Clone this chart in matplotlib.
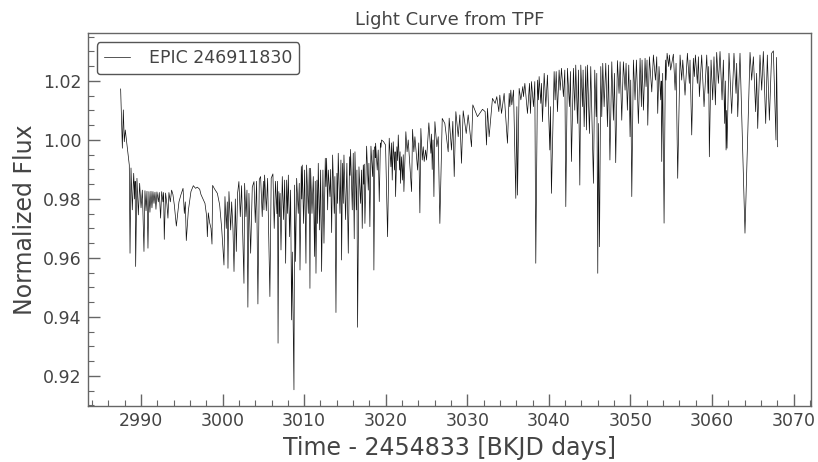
import matplotlib
matplotlib.use("Agg")
import matplotlib.pyplot as plt
import numpy as np

# Light curve vertices (time, normalized flux), in four stretches.
seg_a = [
    (2987.50, 1.0173), (2987.71, 0.9972), (2987.83, 1.0102), (2987.95, 0.9994), (2988.07, 1.0034),
    (2988.40, 0.9955), (2988.56, 0.9915), (2988.65, 0.9616), (2988.77, 0.9905), (2988.93, 0.9763),
    (2989.10, 0.9887), (2989.22, 0.9800), (2989.28, 0.9860), (2989.34, 0.9571), (2989.50, 0.9870),
    (2989.67, 0.9746), (2989.83, 0.9853), (2990.00, 0.9770), (2990.16, 0.9830), (2990.36, 0.9622),
    (2990.48, 0.9828), (2990.61, 0.9760), (2990.73, 0.9826), (2990.85, 0.9633), (2990.97, 0.9825),
    (2991.09, 0.9755), (2991.22, 0.9826), (2991.34, 0.9770), (2991.46, 0.9825), (2991.59, 0.9785),
    (2991.71, 0.9823), (2991.83, 0.9765), (2991.95, 0.9824), (2992.12, 0.9790), (2992.24, 0.9822),
    (2992.40, 0.9735), (2992.53, 0.9825), (2992.69, 0.9790), (2992.77, 0.9822), (2992.85, 0.9663),
    (2993.01, 0.9820), (2993.18, 0.9780), (2993.30, 0.9735), (2993.42, 0.9822), (2993.59, 0.9790),
    (2993.75, 0.9830), (2993.91, 0.9815), (2994.08, 0.9780), (2994.33, 0.9708), (2994.65, 0.9790),
    (2994.90, 0.9815), (2995.15, 0.9836), (2995.31, 0.9751), (2995.43, 0.9790), (2995.55, 0.9659),
    (2995.80, 0.9760), (2996.12, 0.9825), (2996.41, 0.9845), (2996.69, 0.9836), (2996.90, 0.9840),
    (2997.19, 0.9833), (2997.35, 0.9815), (2997.59, 0.9800), (2997.84, 0.9785), (2998.05, 0.9740),
    (2998.13, 0.9672), (2998.25, 0.9753), (2998.41, 0.9720), (2998.58, 0.9700), (2998.70, 0.9647),
    (2998.78, 0.9846), (2998.99, 0.9835), (2999.36, 0.9819), (2999.64, 0.9780), (2999.89, 0.9700),
    (3000.17, 0.9576),
]
seg_b = [
    (3000.29, 0.9808), (3000.45, 0.9700), (3000.58, 0.9790), (3000.66, 0.9565), (3000.78, 0.9825),
    (3000.99, 0.9695), (3001.11, 0.9790), (3001.27, 0.9700), (3001.40, 0.9554), (3001.56, 0.9800),
    (3001.68, 0.9622), (3001.84, 0.9820), (3002.00, 0.9859), (3002.17, 0.9740), (3002.33, 0.9845),
    (3002.45, 0.9700), (3002.62, 0.9514), (3002.70, 0.9853), (3002.86, 0.9740), (3002.99, 0.9830),
    (3003.10, 0.9433), (3003.23, 0.9819), (3003.44, 0.9616), (3003.64, 0.9840), (3003.85, 0.9859),
    (3004.01, 0.9720), (3004.17, 0.9860), (3004.33, 0.9444), (3004.50, 0.9866), (3004.66, 0.9876),
    (3004.86, 0.9740), (3005.00, 0.9860), (3005.07, 0.9763), (3005.15, 0.9881), (3005.36, 0.9760),
    (3005.52, 0.9870), (3005.80, 0.9469), (3005.96, 0.9870), (3006.17, 0.9885), (3006.33, 0.9700),
    (3006.49, 0.9860), (3006.66, 0.9750), (3006.74, 0.9860), (3006.80, 0.9311), (3006.90, 0.9825),
    (3006.97, 0.9740), (3007.05, 0.9819), (3007.16, 0.9627), (3007.32, 0.9876), (3007.48, 0.9730),
    (3007.61, 0.9864), (3007.73, 0.9582), (3007.85, 0.9864), (3007.97, 0.9751), (3008.06, 0.9881),
    (3008.22, 0.9672), (3008.34, 0.9830), (3008.46, 0.9390), (3008.55, 0.9620), (3008.75, 0.9153),
    (3008.83, 0.9847), (3008.95, 0.9588), (3009.08, 0.9870), (3009.28, 0.9751), (3009.40, 0.9853),
    (3009.49, 0.9559), (3009.65, 0.9910), (3009.71, 0.9800), (3009.77, 0.9915), (3009.93, 0.9717),
    (3010.06, 0.9898), (3010.22, 0.9582), (3010.30, 0.9915), (3010.51, 0.9751), (3010.63, 0.9904),
    (3010.71, 0.9497), (3010.79, 0.9904), (3010.96, 0.9751), (3011.12, 0.9876), (3011.28, 0.9605),
    (3011.36, 0.9860), (3011.45, 0.9548), (3011.57, 0.9864), (3011.65, 0.9717), (3011.73, 0.9921),
    (3011.90, 0.9695), (3012.02, 0.9898), (3012.14, 0.9554), (3012.30, 0.9898), (3012.43, 0.9650),
    (3012.59, 0.9938), (3012.67, 0.9842), (3012.75, 0.9938), (3012.88, 0.9763), (3012.96, 0.9898),
    (3013.16, 0.9808), (3013.25, 0.9900), (3013.37, 0.9686), (3013.49, 0.9949), (3013.69, 0.9751),
    (3013.77, 0.9876), (3013.90, 0.9415), (3014.02, 0.9887), (3014.10, 0.9785), (3014.18, 0.9955),
    (3014.39, 0.9751), (3014.51, 0.9932), (3014.59, 0.9593), (3014.71, 0.9921), (3014.80, 0.9785),
    (3014.88, 0.9949), (3015.08, 0.9730), (3015.24, 0.9921), (3015.41, 0.9616), (3015.57, 0.9943),
    (3015.63, 0.9880), (3015.69, 0.9968), (3015.90, 0.9763), (3016.02, 0.9955), (3016.14, 0.9665),
    (3016.23, 0.9960), (3016.39, 0.9763), (3016.47, 0.9898), (3016.55, 0.9365), (3016.72, 0.9909),
    (3016.92, 0.9785), (3017.04, 0.9898), (3017.12, 0.9700), (3017.25, 0.9915), (3017.31, 0.9850),
    (3017.37, 0.9918), (3017.45, 0.9717), (3017.66, 0.9979), (3017.86, 0.9830), (3017.94, 0.9921),
    (3018.06, 0.9706), (3018.19, 0.9979), (3018.39, 0.9876), (3018.47, 0.9966), (3018.55, 0.9559),
    (3018.68, 0.9977), (3018.72, 0.9940), (3018.76, 0.9989), (3018.96, 0.9898), (3019.08, 0.9966),
    (3019.21, 0.9791), (3019.35, 0.9990), (3019.42, 0.9975), (3019.49, 1.0000), (3019.74, 0.9994),
    (3019.98, 0.9983), (3020.23, 0.9672), (3020.43, 1.0006), (3020.64, 0.9909), (3020.72, 0.9990),
    (3020.80, 0.9864), (3020.92, 0.9994), (3021.09, 0.9898), (3021.15, 0.9960), (3021.21, 0.9808),
    (3021.37, 0.9977), (3021.46, 0.9930), (3021.54, 1.0017), (3021.70, 0.9898), (3021.76, 0.9960),
    (3021.82, 0.9853), (3021.94, 0.9943), (3022.07, 0.9864), (3022.15, 0.9950), (3022.23, 0.9825),
    (3022.47, 1.0028), (3022.62, 0.9960), (3022.76, 1.0000), (3023.17, 0.9825), (3023.29, 1.0036),
    (3023.45, 0.9960), (3023.58, 1.0011), (3023.91, 0.9898), (3024.05, 0.9990), (3024.19, 0.9753),
    (3024.31, 1.0039), (3024.48, 0.9932), (3024.60, 0.9977), (3024.72, 0.9927), (3024.89, 0.9966),
    (3025.01, 0.9932), (3025.29, 1.0058), (3025.54, 0.9955), (3025.62, 1.0020), (3025.70, 0.9900),
    (3025.80, 1.0000), (3025.91, 0.9808), (3026.03, 1.0062), (3026.27, 0.9977), (3026.44, 1.0011),
    (3026.64, 0.9717), (3026.93, 1.0073), (3027.25, 1.0056), (3027.66, 0.9960),
]
seg_c = [
    (3027.78, 1.0074), (3028.07, 0.9966), (3028.23, 1.0063), (3028.40, 0.9876), (3028.60, 1.0096),
    (3028.89, 1.0011), (3029.09, 1.0085), (3029.29, 0.9921), (3029.50, 1.0099), (3029.87, 1.0022),
    (3030.11, 1.0085), (3030.52, 0.9977), (3030.68, 1.0119), (3031.25, 1.0079), (3031.87, 1.0104),
    (3032.19, 1.0096), (3032.36, 0.9983), (3032.48, 1.0107), (3032.68, 1.0011), (3033.09, 1.0141),
    (3033.42, 1.0124), (3033.62, 1.0147), (3033.87, 1.0096), (3033.99, 1.0152), (3034.20, 1.0090),
    (3034.52, 1.0158), (3034.93, 0.9989), (3035.14, 1.0158), (3035.22, 1.0113), (3035.34, 1.0169),
    (3035.46, 1.0119), (3035.67, 1.0169), (3035.95, 0.9802), (3036.08, 1.0113), (3036.16, 0.9813),
    (3036.36, 1.0175), (3036.57, 1.0136), (3036.81, 1.0181), (3036.89, 1.0147), (3037.06, 1.0192),
    (3037.38, 1.0090), (3037.63, 1.0192), (3037.75, 1.0090), (3037.87, 1.0198), (3038.12, 1.0113),
    (3038.28, 1.0198), (3038.40, 0.9582), (3038.61, 1.0203), (3038.73, 1.0136), (3038.81, 1.0215),
    (3039.02, 1.0124), (3039.10, 1.0192), (3039.22, 1.0062), (3039.43, 1.0226), (3039.63, 1.0113),
    (3039.83, 1.0220), (3040.12, 0.9966), (3040.20, 1.0113), (3040.32, 0.9819), (3040.65, 1.0232),
    (3040.77, 1.0136), (3040.90, 1.0232), (3041.06, 1.0096), (3041.26, 1.0237), (3041.39, 1.0169),
    (3041.55, 1.0243), (3041.79, 1.0147), (3041.96, 1.0237), (3042.08, 0.9774), (3042.28, 1.0243),
    (3042.53, 1.0113), (3042.65, 1.0232), (3042.77, 0.9927), (3043.02, 1.0243), (3043.18, 1.0101),
    (3043.30, 1.0254), (3043.51, 1.0056), (3043.63, 1.0237), (3043.80, 0.9847), (3043.92, 1.0254),
    (3044.12, 1.0113), (3044.20, 1.0237), (3044.33, 1.0045), (3044.53, 1.0249), (3044.61, 1.0034),
    (3044.74, 1.0254), (3044.98, 1.0022), (3045.14, 1.0249), (3045.47, 0.9853), (3045.63, 1.0237),
    (3045.80, 1.0079), (3045.88, 1.0226), (3046.00, 0.9548), (3046.08, 1.0056), (3046.21, 0.9638),
    (3046.37, 1.0249), (3046.49, 1.0079), (3046.61, 1.0260), (3046.78, 1.0113), (3046.98, 1.0260),
    (3047.19, 1.0045), (3047.31, 1.0254), (3047.49, 0.9932),
]
seg_d = [
    (3047.72, 1.0265), (3047.92, 1.0067), (3048.04, 1.0226), (3048.20, 0.9923), (3048.41, 1.0269),
    (3048.61, 1.0158), (3048.74, 1.0265), (3048.94, 1.0067), (3049.14, 1.0265), (3049.35, 1.0169),
    (3049.47, 1.0260), (3049.63, 1.0101), (3049.80, 1.0254), (3049.96, 1.0011), (3050.04, 1.0203),
    (3050.17, 0.9808), (3050.37, 1.0271), (3050.57, 1.0136), (3050.74, 1.0271), (3050.98, 1.0056),
    (3051.19, 1.0277), (3051.35, 1.0113), (3051.43, 1.0271), (3051.60, 1.0101), (3051.80, 1.0277),
    (3051.92, 1.0181), (3052.04, 1.0271), (3052.13, 1.0050), (3052.33, 1.0282), (3052.62, 1.0163),
    (3052.82, 1.0288), (3053.07, 1.0203), (3053.23, 1.0282), (3053.35, 1.0090), (3053.51, 1.0249),
    (3053.72, 1.0136), (3053.78, 1.0200), (3053.84, 0.9927), (3053.96, 1.0226), (3054.13, 0.9718),
    (3054.29, 1.0271), (3054.37, 1.0203), (3054.50, 1.0294), (3054.70, 1.0249), (3054.78, 1.0288),
    (3054.94, 1.0237), (3055.27, 1.0291), (3055.48, 1.0169), (3055.60, 1.0260), (3055.80, 0.9870),
    (3056.09, 1.0288), (3056.29, 1.0203), (3056.42, 1.0271), (3056.70, 1.0152), (3056.99, 1.0294),
    (3057.23, 1.0192), (3057.31, 1.0271), (3057.52, 1.0017), (3057.72, 1.0277), (3057.84, 1.0215),
    (3057.97, 1.0288), (3058.21, 1.0192), (3058.34, 1.0282), (3058.46, 1.0147), (3058.74, 1.0288),
    (3059.03, 1.0113), (3059.36, 1.0288), (3059.52, 1.0158), (3059.60, 1.0249), (3059.68, 0.9943),
    (3059.89, 1.0271), (3060.09, 1.0136), (3060.25, 1.0282), (3060.42, 1.0119), (3060.58, 1.0297),
    (3060.79, 1.0192), (3060.99, 1.0300), (3061.24, 1.0136), (3061.40, 1.0271), (3061.56, 1.0056),
    (3061.64, 1.0200), (3061.73, 0.9966), (3061.79, 1.0100), (3061.85, 0.9972), (3062.09, 1.0294),
    (3062.42, 1.0090), (3062.70, 1.0294), (3062.95, 1.0158), (3063.03, 1.0260), (3063.16, 1.0079),
    (3063.44, 1.0294), (3063.73, 1.0000), (3064.05, 0.9684), (3064.67, 1.0297), (3064.87, 1.0203),
    (3065.08, 1.0282), (3065.36, 1.0096), (3065.48, 1.0226), (3065.61, 1.0039), (3065.89, 1.0288),
    (3066.10, 1.0169), (3066.30, 1.0300), (3066.59, 1.0056), (3066.79, 1.0288), (3067.04, 1.0067),
    (3067.32, 1.0294), (3067.53, 1.0302), (3067.73, 1.0113), (3067.85, 1.0000), (3067.92, 1.0280),
    (3068.06, 0.9977),
]
label = "EPIC 246911830"

TXT = "#444444"
EDGE = "#666666"
plt.rcParams.update({
    "font.family": "DejaVu Sans",
    "text.color": TXT,
    "axes.labelcolor": TXT,
    "axes.edgecolor": EDGE,
    "xtick.color": EDGE,
    "ytick.color": EDGE,
    "xtick.labelcolor": TXT,
    "ytick.labelcolor": TXT,
    "xtick.direction": "in",
    "ytick.direction": "in",
    "xtick.minor.visible": True,
    "ytick.minor.visible": True,
    "xtick.major.size": 8.5,
    "ytick.major.size": 8.5,
    "xtick.minor.size": 4,
    "ytick.minor.size": 4,
    "xtick.major.width": 1,
    "ytick.major.width": 1,
    "xtick.minor.width": 0.8,
    "ytick.minor.width": 0.8,
})

vertices = np.array(seg_a + seg_b + seg_c + seg_d)
time, flux = vertices[:, 0], vertices[:, 1]

fig = plt.figure(figsize=(8.18, 4.62), dpi=100)
ax = fig.add_axes([0.1076, 0.1212, 0.8834, 0.8063])
ax.plot(time, flux, color="#111111", lw=0.5, label=label)

ax.set_xlim(2983.5, 3072.1)
ax.set_ylim(0.9098, 1.0361)
ax.set_xticks(np.arange(2990, 3071, 10))
ax.set_yticks([0.92, 0.94, 0.96, 0.98, 1.00, 1.02])
ax.tick_params(labelsize=12.5, pad=4.5)
ax.set_xlabel("Time - 2454833 [BKJD days]", fontsize=17)
ax.set_ylabel("Normalized Flux", fontsize=17)
ax.set_title("Light Curve from TPF", fontsize=13, color=TXT)
for s in ax.spines.values():
    s.set_linewidth(1.0)

leg = ax.legend(loc="upper left", fontsize=12.5, handlelength=1.5, handletextpad=1.1,
                frameon=True, framealpha=1, fancybox=True)
leg.get_frame().set_edgecolor("#555555")
leg.get_frame().set_linewidth(1.0)

fig.savefig("out.png", dpi=100)
